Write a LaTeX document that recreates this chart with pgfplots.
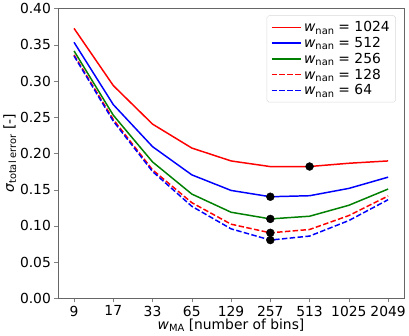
\documentclass[border=0pt]{standalone}
\usepackage{fontspec}
\setmainfont{DejaVu Sans}
\usepackage{pgfplots}
\pgfplotsset{compat=1.18}
\definecolor{mgreen}{RGB}{0,128,0}
\newcommand\chartfont{\fontsize{14}{16}\selectfont}
\newcommand\sub[1]{\raisebox{-0.3ex}{\fontsize{10}{12}\selectfont #1}}

\begin{document}
\begin{tikzpicture}
\begin{axis}[
  scale only axis,
  width=348bp,
  height=292bp,
  xmin=-0.4, xmax=8.4,
  ymin=0, ymax=0.4,
  xtick={0,...,8},
  xticklabels={9,17,33,65,129,257,513,1025,2049},
  ytick={0,0.05,...,0.4},
  yticklabel style={/pgf/number format/.cd, fixed, fixed zerofill, precision=2},
  /pgf/number format/assume math mode=true,
  tick label style={font=\chartfont},
  label style={font=\chartfont},
  tick align=outside,
  tick pos=left,
  major tick length=4bp,
  axis line style={draw=black!60},
  xlabel={\textit{w}\sub{MA} [number of bins]},
  ylabel={\textit{σ}\sub{total error} [-]},
  xlabel style={yshift=4bp},
  ylabel style={yshift=-3bp},
  legend style={at={(0.977,0.976)}, anchor=north east, font=\chartfont,
    draw=black!15, fill=white, inner sep=4pt, rounded corners=2pt},
  legend cell align=left,
  legend image code/.code={\draw[#1, sharp corners] plot coordinates {(0bp,0bp) (30bp,0bp)};},
]
\addplot[red, line width=1.5pt] coordinates {
  (0,0.3726) (1,0.2937) (2,0.2405) (3,0.2075) (4,0.1897) (5,0.1819) (6,0.1820) (7,0.1865) (8,0.1897)};
\addlegendentry{\textit{w}\sub{nan} = 1024}
\addplot[blue, line width=1.5pt] coordinates {
  (0,0.3534) (1,0.2674) (2,0.2094) (3,0.1705) (4,0.1490) (5,0.1403) (6,0.1417) (7,0.1518) (8,0.1673)};
\addlegendentry{\textit{w}\sub{nan} = 512}
\addplot[mgreen, line width=1.5pt] coordinates {
  (0,0.3415) (1,0.2528) (2,0.1883) (3,0.1440) (4,0.1189) (5,0.1097) (6,0.1134) (7,0.1285) (8,0.1509)};
\addlegendentry{\textit{w}\sub{nan} = 256}
\addplot[red, line width=1.5pt, dash pattern=on 5.5bp off 2.4bp] coordinates {
  (0,0.3360) (1,0.2469) (2,0.1774) (3,0.1321) (4,0.1024) (5,0.0905) (6,0.0951) (7,0.1143) (8,0.1413)};
\addlegendentry{\textit{w}\sub{nan} = 128}
\addplot[blue, line width=1.5pt, dash pattern=on 5.5bp off 2.4bp] coordinates {
  (0,0.3346) (1,0.2446) (2,0.1751) (3,0.1271) (4,0.0960) (5,0.0805) (6,0.0860) (7,0.1074) (8,0.1362)};
\addlegendentry{\textit{w}\sub{nan} = 64}
\addplot[only marks, mark=*, mark size=4bp, black, forget plot] coordinates {
  (6,0.1820) (5,0.1403) (5,0.1097) (5,0.0905) (5,0.0805)};
\end{axis}
\end{tikzpicture}
\end{document}
